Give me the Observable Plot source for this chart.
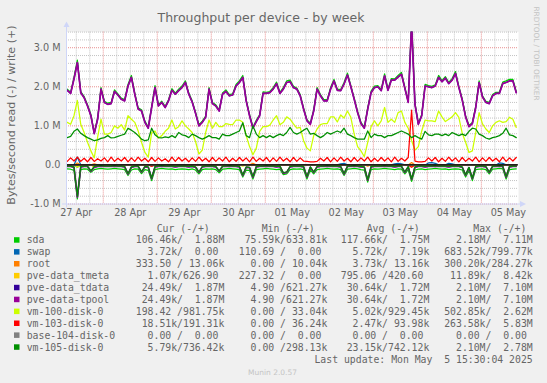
<!DOCTYPE html>
<html><head><meta charset="utf-8">
<script src="https://cdn.jsdelivr.net/npm/d3@7"></script>
<script src="https://cdn.jsdelivr.net/npm/@observablehq/plot@0.6"></script>
<style>
html,body{margin:0;padding:0;background:#f0f0f0;}
#wrap{position:relative;width:547px;height:383px;background:#f0f0f0;overflow:hidden;}
#wrap svg{position:absolute;left:0;top:0;}
</style></head><body><div id="wrap"></div>
<script>
// ---- data (MB/s, one value every 1.5 h starting 27 Apr 08:00 UTC) ----
const title = "Throughput per device - by week";
const yLabel = "Bytes/second read (-) / write (+)";
const xTickLabels = ["27 Apr","28 Apr","29 Apr","30 Apr","01 May","02 May","03 May","04 May","05 May"];
const yTicks = [-1, 0, 1, 2, 3];
const yTickLabels = ["-1.0 M","0.0","1.0 M","2.0 M","3.0 M"];

const tpoolWrite = [1.91,1.83,2.2,2.62,1.85,1.72,1.51,1.26,0.8,1.17,1.94,1.6,1.55,1.57,1.88,1.79,1.68,1.64,2.02,2.24,1.81,1.43,1.38,1.09,0.94,1.47,1.98,1.51,1.6,1.47,1.64,1.91,1.81,1.9,1.98,
2.11,1.81,1.61,1.32,1.0,1.09,1.22,1.94,1.57,1.51,1.38,1.81,1.88,1.77,1.79,2.02,2.11,2.24,1.64,1.26,0.94,1.11,1.26,1.83,1.83,1.85,1.94,2.08,1.83,1.94,2.11,2.13,1.98,1.94,1.77,
1.43,1.13,1.04,1.38,1.94,1.77,1.64,1.64,1.94,2.15,1.91,1.9,2.07,2.3,2.0,1.68,1.34,1.06,0.94,1.43,1.85,1.98,2.0,1.9,2.28,1.91,2.17,2.17,2.25,2.32,1.96,1.6,3.6,
1.55,1.04,1.26,2.02,2.0,1.98,2.02,2.24,2.13,2.22,2.08,2.17,2.34,1.98,1.66,1.23,0.98,1.06,1.47,2.11,1.74,1.6,1.57,1.77,1.83,1.83,2.08,2.11,2.15,2.15,1.85];

const sdaWrite = [1.94,1.86,2.24,2.68,1.88,1.75,1.54,1.29,0.83,1.2,1.98,1.63,1.58,1.6,1.92,1.82,1.71,1.67,2.06,2.29,1.84,1.46,1.41,1.12,0.97,1.5,2.03,1.54,1.63,1.5,1.67,1.95,1.84,1.94,2.02,
2.15,1.84,1.64,1.35,1.03,1.12,1.25,1.98,1.6,1.54,1.41,1.84,1.92,1.8,1.82,2.06,2.15,2.29,1.67,1.29,0.97,1.14,1.29,1.87,1.86,1.88,1.98,2.12,1.86,1.98,2.15,2.17,2.01,1.97,1.8,
1.46,1.16,1.07,1.41,1.98,1.8,1.67,1.67,1.98,2.19,1.94,1.93,2.11,2.35,2.03,1.71,1.37,1.09,0.97,1.46,1.89,2.02,2.03,1.93,2.33,1.94,2.21,2.2,2.29,2.37,1.99,1.63,3.7,
1.58,1.07,1.29,2.06,2.03,2.01,2.05,2.29,2.16,2.26,2.11,2.21,2.39,2.01,1.69,1.26,1.01,1.09,1.5,2.15,1.77,1.63,1.6,1.8,1.86,1.86,2.12,2.15,2.19,2.19,1.88];

const vm100Write = [1.09,1.04,1.26,1.65,1.04,0.83,0.58,0.36,0.18,0.71,1.17,0.79,0.79,0.83,1.0,0.94,1.03,0.89,1.26,1.17,1.09,0.87,0.58,0.32,0.2,0.83,0.87,0.69,0.75,0.86,0.94,1.15,0.92,0.98,1.13,
1.0,0.92,0.83,0.6,0.28,0.38,0.83,1.15,0.94,1.09,0.98,0.98,1.06,1.04,1.03,1.15,1.15,1.09,0.75,0.47,0.26,0.43,0.86,0.98,0.98,1.02,1.15,1.26,1.03,1.09,1.23,1.17,1.05,0.94,0.96,
0.62,0.43,0.36,0.75,0.92,1.03,1.06,1.06,1.23,1.23,1.1,1.28,1.2,1.38,1.22,0.79,0.47,0.36,0.21,0.58,0.98,1.13,1.0,1.13,1.47,1.09,1.17,1.09,1.34,1.38,1.09,0.94,0.62,
0.38,0.47,0.87,1.15,1.13,1.13,1.11,1.38,1.23,1.11,1.17,1.23,1.34,1.22,0.81,0.58,0.32,0.36,0.83,1.34,1.05,0.92,0.83,1.0,1.09,1.13,1.09,1.11,1.22,1.17,0.96];

const vm105Write = [0.70,0.73,0.86,0.92,0.81,0.75,0.70,0.66,0.62,0.64,0.68,0.70,0.75,0.69,0.70,0.73,0.76,0.79,0.94,0.89,0.83,0.75,0.66,0.62,0.64,0.94,0.77,0.70,0.69,0.72,0.70,0.75,0.70,0.83,0.77,
0.75,0.70,0.79,0.75,0.70,0.66,0.70,0.75,0.70,0.70,0.66,0.79,0.75,0.75,0.79,0.83,0.87,1.08,0.75,0.70,1.0,0.79,0.70,0.75,0.70,0.75,0.70,0.75,0.79,0.75,0.83,0.96,0.83,0.79,0.83,
0.89,0.94,0.79,0.81,0.75,0.70,0.75,0.83,0.79,0.83,0.87,0.83,0.94,0.79,0.75,0.70,0.66,0.66,0.66,0.87,0.70,0.79,0.75,0.75,0.70,0.75,0.75,0.79,0.83,0.87,0.83,0.79,0.70,
0.75,0.70,0.66,0.86,0.77,0.75,0.79,0.79,0.75,0.79,0.75,0.83,0.79,0.75,0.79,0.75,0.86,0.94,0.92,0.79,0.75,0.69,0.66,0.70,0.72,0.75,0.81,0.94,0.77,0.75,0.70];

const vm103Write = [0.09,0.18,0.10,0.20,0.09,0.17,0.08,0.19,0.09,0.16,0.10,0.18,0.08,0.20,0.09,0.17,0.10,0.19,0.08,0.18,0.09,0.20,0.10,0.17,0.08,0.19,0.09,0.18,0.10,0.16,0.08,0.20,0.09,0.19,0.10,
0.17,0.08,0.18,0.09,0.20,0.10,0.17,0.08,0.19,0.09,0.18,0.10,0.20,0.08,0.17,0.09,0.19,0.10,0.18,0.08,0.20,0.09,0.17,0.10,0.19,0.08,0.18,0.09,0.20,0.10,0.17,0.08,0.19,0.09,0.18,
0.10,0.09,0.08,0.08,0.09,0.17,0.10,0.19,0.08,0.18,0.09,0.20,0.10,0.17,0.08,0.19,0.09,0.18,0.10,0.20,0.08,0.17,0.09,0.19,0.10,0.18,0.08,0.20,0.09,0.17,0.10,0.19,1.40,
0.10,0.08,0.08,0.09,0.18,0.10,0.19,0.08,0.17,0.09,0.20,0.10,0.18,0.08,0.19,0.09,0.17,0.10,0.20,0.08,0.18,0.09,0.19,0.10,0.17,0.08,0.20,0.09,0.18,0.10,0.19];

const sdaRead = [.10,.11,.14,.87,.12,.10,.11,.19,.12,.10,.09,.10,.11,.10,.09,.10,.11,.12,.27,.13,.10,.11,.22,.12,.14,.40,.12,.10,.09,.10,.11,.10,.12,.11,.10,
.11,.12,.10,.13,.23,.12,.10,.11,.10,.12,.20,.11,.10,.09,.10,.11,.12,.31,.13,.14,.36,.12,.11,.10,.09,.10,.11,.12,.11,.25,.23,.12,.10,.11,.10,
.12,.36,.13,.23,.12,.11,.10,.09,.10,.11,.10,.12,.27,.11,.10,.09,.10,.12,.13,.44,.12,.10,.11,.10,.09,.10,.11,.12,.10,.11,.23,.12,.42,
.13,.11,.10,.12,.11,.10,.09,.10,.11,.10,.12,.11,.10,.11,.13,.31,.14,.40,.12,.11,.10,.12,.23,.11,.10,.09,.10,.36,.12,.11,.10];

const vm105Read = [.03,.03,.05,.80,.04,.03,.03,.15,.04,.03,.02,.03,.03,.03,.02,.03,.03,.04,.22,.05,.03,.03,.17,.04,.05,.34,.04,.03,.02,.03,.03,.03,.04,.03,.03,
.03,.04,.03,.05,.18,.04,.03,.03,.03,.04,.15,.03,.03,.02,.03,.03,.04,.26,.05,.06,.30,.04,.03,.03,.02,.03,.03,.04,.03,.20,.18,.04,.03,.03,.03,
.04,.30,.05,.18,.04,.03,.03,.02,.03,.03,.03,.04,.22,.03,.03,.02,.03,.04,.05,.38,.04,.03,.03,.03,.02,.03,.03,.04,.03,.03,.18,.04,.36,
.05,.03,.03,.04,.03,.03,.02,.03,.03,.03,.04,.03,.03,.03,.05,.25,.06,.34,.04,.03,.03,.04,.18,.03,.03,.02,.03,.30,.04,.03,.03];

const tpoolRead = [.04,.04,.06,.82,.05,.04,.04,.16,.06,.04,.03,.04,.04,.04,.03,.04,.04,.05,.23,.06,.04,.04,.18,.05,.06,.35,.05,.04,.03,.04,.04,.04,.05,.04,.04,
.04,.05,.04,.06,.19,.05,.04,.04,.04,.05,.16,.04,.04,.03,.04,.04,.05,.27,.06,.07,.31,.05,.04,.04,.03,.04,.04,.05,.04,.21,.19,.05,.04,.04,.04,
.05,.31,.06,.19,.05,.04,.04,.03,.04,.04,.04,.05,.23,.04,.04,.03,.04,.05,.06,.39,.05,.04,.04,.04,.03,.04,.04,.05,.04,.04,.19,.05,.37,
.06,.04,.04,.05,.04,.04,.03,.04,.04,.04,.05,.04,.04,.04,.06,.26,.07,.35,.05,.04,.04,.05,.19,.04,.04,.03,.04,.31,.05,.04,.04];

// small devices: only their non-zero blips [step, MB/s]
const swapWriteBlips = [[3,0.20],[81,0.03],[82,0.04],[97,0.03],[98,0.04],[99,0.03],[107,0.05],[108,0.06],[109,0.04],[113,0.04],[114,0.03],[128,0.05],[129,0.04]];
const swapReadBlips = [[3,0.06],[25,0.03]];
const rootWriteBlips = [[3,0.05],[8,0.03],[55,0.04],[102,0.06]];
const rootReadBlips = [[3,0.04],[8,0.05],[25,0.03],[89,0.03]];
const tmetaWriteBlips = [];
const tmetaReadBlips = [[3,0.02]];
const vm100ReadBlips = [[3,0.06],[8,0.04],[52,0.03],[102,0.05]];
const vm103ReadBlips = [[25,0.03],[102,0.06]];
const base104Blips = [];

const legendNames = ["sda","swap","root","pve-data_tmeta","pve-data_tdata","pve-data-tpool","vm-100-disk-0","vm-103-disk-0","base-104-disk-0","vm-105-disk-0"];
const legendColors = ["#00CC00","#0066B3","#FF8000","#FFCC00","#330099","#990099","#CCFF00","#FF0000","#808080","#008F00"];
const legendHeaders = ["Cur (-/+)","Min (-/+)","Avg (-/+)","Max (-/+)"];
const curCol = ["106.46k/  1.88M","  3.72k/  0.00 ","333.50 / 13.06k","  1.07k/626.90 "," 24.49k/  1.87M"," 24.49k/  1.87M","198.42 /981.75k"," 18.51k/191.31k","  0.00 /  0.00 ","  5.79k/736.42k"];
const minCol = [" 75.59k/633.81k","110.69 /  0.00 ","  0.00 / 10.04k","227.32 /  0.00 ","  4.90 /621.27k","  4.90 /621.27k","  0.00 / 33.04k","  0.00 / 36.24k","  0.00 /  0.00 ","  0.00 /298.13k"];
const avgCol = ["117.66k/  1.75M","  5.72k/  7.19k","  3.73k/ 13.16k","795.06 /420.60 "," 30.64k/  1.72M"," 30.64k/  1.72M","  5.02k/929.45k","  2.47k/ 93.98k","  0.00 /  0.00 "," 23.15k/742.12k"];
const maxCol = ["  2.18M/  7.11M","683.52k/799.77k","300.20k/284.27k"," 11.89k/  8.42k","  2.10M/  7.10M","  2.10M/  7.10M","502.85k/  2.62M","263.58k/  5.83M","  0.00 /  0.00 ","  2.10M/  2.78M"];
const lastUpdate = "Last update: Mon May  5 15:30:04 2025";

// ---- build ----
const N = tpoolWrite.length;
const T0 = Date.UTC(2025,3,27,8,0);
const STEP = 1.5*3600e3;
const sparse = pairs => { const a = new Array(N).fill(0); pairs.forEach(([i,v]) => a[i] = v); return a; };
const pts = (arr, sign) => arr.map((v,i) => ({t: new Date(T0 + i*STEP), v: sign*v*1e6}));

const devices = [
  {c: legendColors[0], r: sdaRead, w: sdaWrite},
  {c: legendColors[1], r: sparse(swapReadBlips), w: sparse(swapWriteBlips)},
  {c: legendColors[2], r: sparse(rootReadBlips), w: sparse(rootWriteBlips)},
  {c: legendColors[3], r: sparse(tmetaReadBlips), w: sparse(tmetaWriteBlips)},
  {c: legendColors[4], r: tpoolRead, w: tpoolWrite},
  {c: legendColors[5], r: tpoolRead, w: tpoolWrite},
  {c: legendColors[6], r: sparse(vm100ReadBlips), w: vm100Write},
  {c: legendColors[7], r: sparse(vm103ReadBlips), w: vm103Write},
  {c: legendColors[8], r: sparse(base104Blips), w: sparse(base104Blips)},
  {c: legendColors[9], r: vm105Read, w: vm105Write}
];

const xStart = new Date(Date.UTC(2025,3,27,7,40)), xEnd = new Date(Date.UTC(2025,4,5,16,30));
const sixH = d3.utcHour.every(6).range(xStart, xEnd);
const minorX = sixH.filter(d => d.getUTCHours() !== 0);
const majorX = sixH.filter(d => d.getUTCHours() === 0);
const labelDates = d3.utcDay.range(new Date(Date.UTC(2025,3,27)), new Date(Date.UTC(2025,4,6))).map(d => d3.utcHour.offset(d, 12));
const yGrid = d3.range(-10, 35, 2).map(k => k/10);
const minorY = yGrid.filter(v => Math.abs(v - Math.round(v)) > 1e-6).map(v => v*1e6);
const majorY = yGrid.filter(v => Math.abs(v - Math.round(v)) < 1e-6).map(v => v*1e6);

const lineMarks = [];
devices.forEach((d, k) => {
  const sw = k === 5 ? 1.7 : 1.25;
  lineMarks.push(Plot.line(pts(d.r, -1), {x:"t", y:"v", stroke:d.c, strokeWidth:sw, clip:true}));
  lineMarks.push(Plot.line(pts(d.w, 1), {x:"t", y:"v", stroke:d.c, strokeWidth:sw, clip:true}));
});

const chart = Plot.plot({
  width: 547, height: 230,
  marginLeft: 66, marginRight: 29, marginTop: 31.6, marginBottom: 26.5,
  style: {background: "transparent", fontFamily: "'DejaVu Sans', sans-serif", fontSize: "9.7px", color: "#666"},
  x: {type: "utc", domain: [xStart, xEnd], label: null},
  y: {domain: [-1e6, 3.4e6], label: null},
  marks: [
    Plot.frame({fill: "white", stroke: "none"}),
    Plot.ruleX(minorX, {stroke: "#c4c4c4", strokeDasharray: "1,1"}),
    Plot.ruleY(minorY, {stroke: "#c4c4c4", strokeDasharray: "1,1"}),
    Plot.ruleX(majorX, {stroke: "#e89090", strokeDasharray: "1,1"}),
    Plot.ruleY(majorY, {stroke: "#e89090", strokeDasharray: "1,1"}),
    ...lineMarks,
    Plot.ruleY([0], {stroke: "#000", strokeWidth: 1.2}),
    Plot.axisX(labelDates, {tickSize: 0, tickPadding: 5.5, tickFormat: (d,i) => xTickLabels[i], label: null, fill: "#666"}),
    Plot.axisY(yTicks.map(v => v*1e6), {tickSize: 0, tickPadding: 6, tickFormat: (d,i) => yTickLabels[i], label: null, fill: "#666"})
  ]
});
const wrap = document.getElementById("wrap");
wrap.appendChild(chart);

// ---- overlay: axes arrows, title, labels, legend ----
const sx = chart.scale("x"), sy = chart.scale("y");
const x0 = sx.apply(xStart), x1 = sx.apply(xEnd), yB = sy.apply(-1e6), yT = sy.apply(3.4e6);
const ov = d3.select(wrap).append("svg").attr("width", 547).attr("height", 383)
  .style("font-family", "'DejaVu Sans', sans-serif");
const AX = "#CFD6F8";
ov.append("line").attr("x1", x0 - 4).attr("x2", x1 + 3).attr("y1", yB + 0.5).attr("y2", yB + 0.5).attr("stroke", AX);
ov.append("line").attr("x1", x0 + 0.5).attr("x2", x0 + 0.5).attr("y1", yB + 4).attr("y2", yT - 5).attr("stroke", AX);
ov.append("path").attr("d", `M${x1+2},${yB-2.5}L${x1+8},${yB+0.5}L${x1+2},${yB+3.5}Z`).attr("fill", AX);
ov.append("path").attr("d", `M${x0-2.5},${yT-4.5}L${x0+0.5},${yT-10}L${x0+3.5},${yT-4.5}Z`).attr("fill", AX);

ov.append("text").attr("x", 261).attr("y", 22).attr("text-anchor", "middle")
  .attr("font-size", 12.5).attr("fill", "#666").text(title);
ov.append("text").attr("transform", "translate(14.5,115) rotate(-90)").attr("text-anchor", "middle")
  .attr("font-size", 11.1).attr("fill", "#666").text(yLabel);
ov.append("text").attr("transform", "translate(533.5,53.5) rotate(90)").attr("text-anchor", "middle")
  .attr("font-size", 7.3).attr("fill", "#c4c4c4").text("RRDTOOL / TOBI OETIKER");
ov.append("text").attr("x", 272.5).attr("y", 374.5).attr("text-anchor", "middle")
  .attr("font-size", 7.5).attr("fill", "#c4c4c4").text("Munin 2.0.57");

const mono = "'DejaVu Sans Mono', monospace";
const LF = 9.8;
const headerX = [156.7, 261.7, 366.7, 473.3];
legendHeaders.forEach((h, j) => {
  ov.append("text").attr("x", headerX[j]).attr("y", 231.7).attr("font-family", mono).attr("font-size", LF)
    .attr("fill", "#666").style("white-space", "pre").text(h);
});
const colEnds = [224.3, 327.3, 429.3, 532.7];
const cols = [curCol, minCol, avgCol, maxCol];
legendNames.forEach((name, k) => {
  const cy = 240 + 11.9*k;
  ov.append("rect").attr("x", 14).attr("y", cy - 2.8).attr("width", 5.5).attr("height", 5.5).attr("fill", legendColors[k]);
  ov.append("text").attr("x", 26.7).attr("y", cy + 3.4).attr("font-family", mono).attr("font-size", LF)
    .attr("fill", "#666").text(name);
  cols.forEach((col, j) => {
    ov.append("text").attr("x", colEnds[j]).attr("y", cy + 3.4).attr("text-anchor", "end")
      .attr("font-family", mono).attr("font-size", LF).attr("fill", "#666")
      .attr("xml:space", "preserve").style("white-space", "pre").text(col[k]);
  });
});
ov.append("text").attr("x", 532.7).attr("y", 363.4).attr("text-anchor", "end")
  .attr("font-family", mono).attr("font-size", LF).attr("fill", "#666")
  .style("white-space", "pre").text(lastUpdate);
</script></body></html>
